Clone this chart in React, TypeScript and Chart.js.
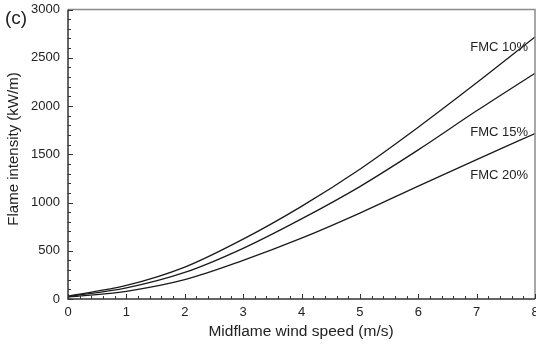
import React, { useEffect, useRef } from "react";
import { Chart, registerables } from "chart.js";

Chart.register(...registerables);

const windSpeed = [0, 1, 2, 3, 4, 5, 6, 7, 8];
const fmc10 = [30, 140, 330, 620, 960, 1345, 1780, 2240, 2715];
const fmc15 = [25, 115, 275, 525, 830, 1165, 1545, 1950, 2340];
const fmc20 = [20, 80, 200, 400, 630, 890, 1170, 1445, 1715];
const xTicks = [0, 1, 2, 3, 4, 5, 6, 7, 8];
const yTicks = [0, 500, 1000, 1500, 2000, 2500, 3000];
const seriesLabels = ["FMC 10%", "FMC 15%", "FMC 20%"];

const FONT = "Arial, 'Liberation Sans', sans-serif";

const axesPlugin = {
  id: "customAxes",
  afterDatasetsDraw(chart: any) {
    const ctx = chart.ctx;
    const xs = chart.scales.x;
    const ys = chart.scales.y;
    const { left, right, top, bottom } = chart.chartArea;
    ctx.save();
    ctx.strokeStyle = "#8a8a8a";
    ctx.lineWidth = 1.5;
    ctx.beginPath();
    ctx.moveTo(left, top);
    ctx.lineTo(right, top);
    ctx.lineTo(right, bottom);
    ctx.stroke();
    ctx.strokeStyle = "#333";
    ctx.lineWidth = 1.5;
    ctx.beginPath();
    ctx.moveTo(left, top);
    ctx.lineTo(left, bottom);
    ctx.lineTo(right, bottom);
    ctx.stroke();
    ctx.lineWidth = 1;
    ctx.beginPath();
    for (let i = 0; i <= 40; i++) {
      const v = i * 0.2;
      const px = Math.round(xs.getPixelForValue(v)) + 0.5;
      const len = i % 5 === 0 ? 5 : 3;
      ctx.moveTo(px, bottom);
      ctx.lineTo(px, bottom - len);
    }
    for (let i = 0; i <= 30; i++) {
      const v = i * 100;
      const py = Math.round(ys.getPixelForValue(v)) + 0.5;
      const len = i % 5 === 0 ? 5 : 3;
      ctx.moveTo(left, py);
      ctx.lineTo(left + len, py);
    }
    ctx.stroke();
    ctx.fillStyle = "#222";
    ctx.font = `13px ${FONT}`;
    ctx.textAlign = "center";
    ctx.textBaseline = "middle";
    xTicks.forEach((v) => {
      ctx.fillText(String(v), xs.getPixelForValue(v), bottom + 13);
    });
    ctx.textAlign = "right";
    yTicks.forEach((v) => {
      ctx.fillText(String(v), left - 8, ys.getPixelForValue(v));
    });
    ctx.font = `15.5px ${FONT}`;
    ctx.textAlign = "center";
    ctx.fillText("Midflame wind speed (m/s)", 301, 332);
    ctx.save();
    ctx.translate(14, 149);
    ctx.rotate(-Math.PI / 2);
    ctx.font = `15px ${FONT}`;
    ctx.fillText("Flame intensity (kW/m)", 0, 0);
    ctx.restore();
    ctx.font = `19px ${FONT}`;
    ctx.textAlign = "left";
    ctx.fillText("(c)", 5, 19);
    ctx.font = `13px ${FONT}`;
    ctx.textAlign = "right";
    ctx.fillText(seriesLabels[0], 528, 47);
    ctx.fillText(seriesLabels[1], 528, 132);
    ctx.fillText(seriesLabels[2], 528, 175);
    ctx.restore();
  },
};

export default function App() {
  const ref = useRef<HTMLCanvasElement>(null);
  useEffect(() => {
    const mk = (label: string, data: number[]) => ({
      label,
      data: windSpeed.map((x, i) => ({ x, y: data[i] })),
      borderColor: "#1a1a1a",
      borderWidth: 1.3,
      pointRadius: 0,
      fill: false,
      cubicInterpolationMode: "monotone" as const,
    });
    const chart = new Chart(ref.current!, {
      type: "line",
      data: {
        datasets: [
          mk(seriesLabels[0], fmc10),
          mk(seriesLabels[1], fmc15),
          mk(seriesLabels[2], fmc20),
        ],
      },
      options: {
        animation: false,
        responsive: false,
        layout: { padding: { left: 68, right: 1, top: 9.5, bottom: 46 } },
        plugins: { legend: { display: false }, tooltip: { enabled: false } },
        scales: {
          x: { type: "linear", min: 0, max: 8, display: false },
          y: { type: "linear", min: 0, max: 3000, display: false },
        },
      },
      plugins: [axesPlugin],
    });
    return () => chart.destroy();
  }, []);
  return (
    <div style={{ position: "fixed", left: 0, top: 0, width: 536, height: 345, background: "#fff" }}>
      <canvas ref={ref} width={536} height={345} />
    </div>
  );
}
